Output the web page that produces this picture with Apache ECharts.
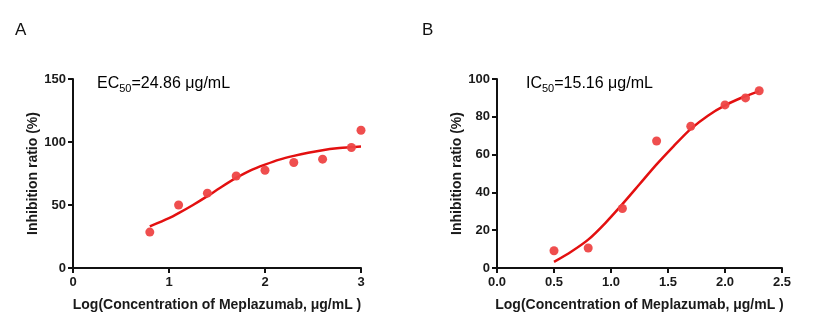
<!DOCTYPE html>
<html>
<head>
<meta charset="utf-8">
<script src="https://cdn.jsdelivr.net/npm/echarts@6/dist/echarts.min.js"></script>
<style>
  html, body { margin: 0; padding: 0; background: #fff; }
  #chart { width: 821px; height: 335px; }
</style>
</head>
<body>
<div id="chart"></div>
<script>
// Panel A: measured points and fitted curve (EC50)
const logConcA = [0.8, 1.1, 1.4, 1.7, 2.0, 2.3, 2.6, 2.9, 3.0];
const inhibitionA = [28.5, 50, 59.4, 73, 77.6, 83.7, 86.4, 95.6, 109.3];
const fitXA = [0.8, 1.0, 1.1, 1.25, 1.4, 1.55, 1.7, 1.85, 2.0, 2.15, 2.3, 2.45, 2.6, 2.75, 2.9, 3.0];
const fitYA = [33, 39.5, 43.5, 50, 57, 64.5, 71.5, 77.5, 82, 86, 89, 91.5, 93.5, 95, 96, 96.5];
const xTicksA = ['0', '1', '2', '3'];

// Panel B: measured points and fitted curve (IC50)
const logConcB = [0.5, 0.8, 1.1, 1.4, 1.7, 2.0, 2.18, 2.3];
const inhibitionB = [9.1, 10.6, 31.5, 67.2, 75.0, 86.3, 90.0, 93.8];
const fitXB = [0.5, 0.65, 0.8, 0.95, 1.1, 1.25, 1.4, 1.55, 1.7, 1.85, 2.0, 2.15, 2.3];
const fitYB = [3.2, 8.6, 15, 23.8, 33.8, 44.3, 54.8, 64.5, 73.6, 80.6, 86, 90.2, 93.6];
const xTicksB = ['0.0', '0.5', '1.0', '1.5', '2.0', '2.5'];

const panelLetters = ['A', 'B'];
const yAxisTitle = 'Inhibition ratio (%)';
const xAxisTitle = 'Log(Concentration of Meplazumab, μg/mL )';

const FONT = 'Liberation Sans, Arial, Helvetica, sans-serif';
const LINE_RED = '#e31010';
const DOT_RED = '#ee4545';

function pair(xs, ys) { return xs.map((x, i) => [x, ys[i]]); }

function xAxisCfg(gridIndex, max, interval, labels, decimals) {
  return {
    type: 'value', gridIndex, min: 0, max, interval,
    name: xAxisTitle, nameLocation: 'middle', nameGap: 30,
    nameTextStyle: { fontFamily: FONT, fontSize: 14, fontWeight: 'bold', color: '#1a1a1a' },
    axisLine: { show: true, onZero: false, lineStyle: { color: '#111', width: 2 } },
    axisTick: { show: true, length: 5, lineStyle: { color: '#111', width: 2 } },
    axisLabel: {
      margin: 8, fontFamily: FONT, fontSize: 13, fontWeight: 'bold', color: '#1a1a1a',
      formatter: v => labels[Math.round(v / interval)] ?? v.toFixed(decimals)
    },
    splitLine: { show: false }
  };
}

function yAxisCfg(gridIndex, max, interval) {
  return {
    type: 'value', gridIndex, min: 0, max, interval,
    name: yAxisTitle, nameLocation: 'middle', nameGap: 33, nameRotate: 90,
    nameTextStyle: { fontFamily: FONT, fontSize: 14, fontWeight: 'bold', color: '#1a1a1a' },
    axisLine: { show: true, lineStyle: { color: '#111', width: 2 } },
    axisTick: { show: true, length: 5, lineStyle: { color: '#111', width: 2 } },
    axisLabel: { margin: 7, fontFamily: FONT, fontSize: 13, fontWeight: 'bold', color: '#1a1a1a' },
    splitLine: { show: false }
  };
}

function fitLine(idx, data) {
  return {
    type: 'line', xAxisIndex: idx, yAxisIndex: idx, data,
    smooth: 0.25, showSymbol: false, symbol: 'none', z: 2,
    lineStyle: { color: LINE_RED, width: 2.5 }
  };
}

function dots(idx, data) {
  return {
    type: 'scatter', xAxisIndex: idx, yAxisIndex: idx, data,
    symbol: 'circle', symbolSize: 9, z: 3,
    itemStyle: { color: DOT_RED, opacity: 0.95 }
  };
}

function annotation(left, label, value) {
  return {
    type: 'text', left, top: 76,
    style: {
      text: '{m|' + label + '}{s|50}{m|=' + value + ' μg/mL}',
      rich: {
        m: { fontFamily: FONT, fontSize: 16, color: '#2a2a2a', lineHeight: 20 },
        s: { fontFamily: FONT, fontSize: 11, color: '#2a2a2a', lineHeight: 10, verticalAlign: 'bottom' }
      }
    }
  };
}

const chart = echarts.init(document.getElementById('chart'), null, { renderer: 'canvas' });
chart.setOption({
  animation: false,
  backgroundColor: '#fff',
  grid: [
    { left: 73, top: 79, width: 288, height: 189 },
    { left: 497, top: 79, width: 285, height: 189 }
  ],
  xAxis: [
    xAxisCfg(0, 3, 1, xTicksA, 0),
    xAxisCfg(1, 2.5, 0.5, xTicksB, 1)
  ],
  yAxis: [
    yAxisCfg(0, 150, 50),
    yAxisCfg(1, 100, 20)
  ],
  graphic: [
    { type: 'text', left: 15, top: 22, style: { text: panelLetters[0], fontFamily: FONT, fontSize: 17, fill: '#111' } },
    { type: 'text', left: 422, top: 22, style: { text: panelLetters[1], fontFamily: FONT, fontSize: 17, fill: '#111' } },
    annotation(97, 'EC', '24.86'),
    annotation(526, 'IC', '15.16')
  ],
  series: [
    fitLine(0, pair(fitXA, fitYA)),
    dots(0, pair(logConcA, inhibitionA)),
    fitLine(1, pair(fitXB, fitYB)),
    dots(1, pair(logConcB, inhibitionB))
  ]
});
</script>
</body>
</html>
